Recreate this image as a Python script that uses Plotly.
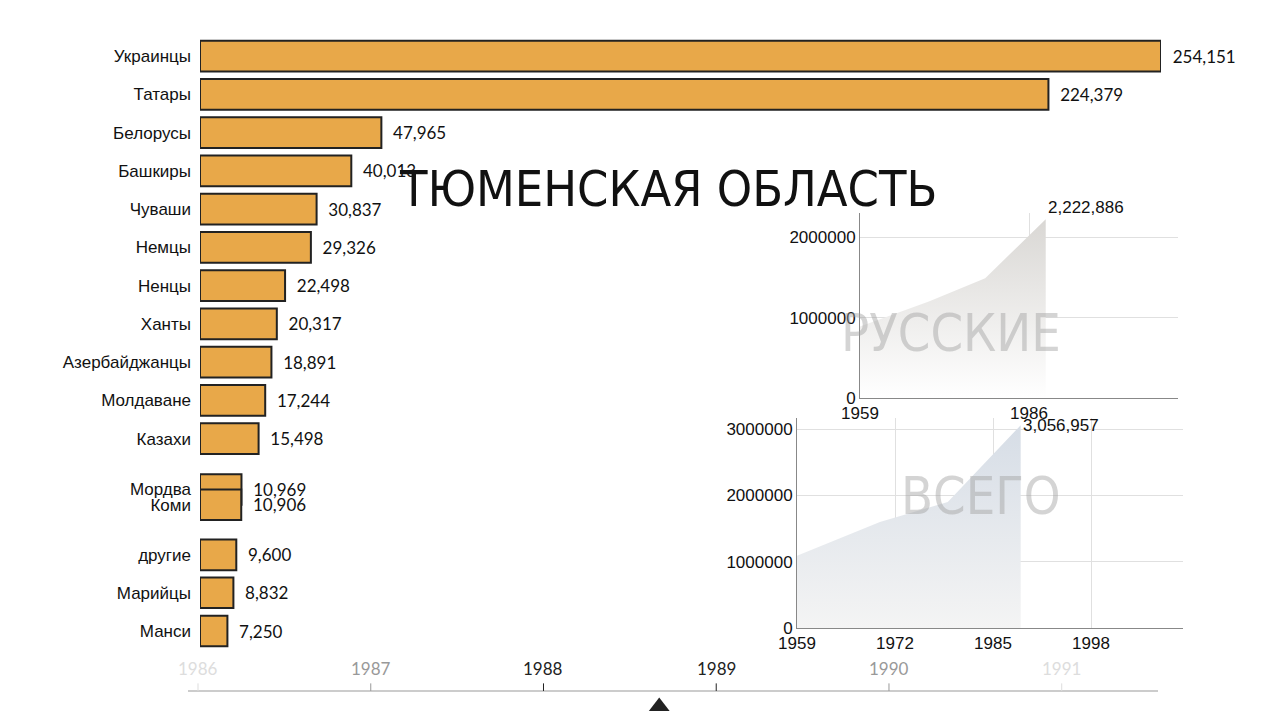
import plotly.graph_objects as go

categories = ["Украинцы","Татары","Белорусы","Башкиры","Чуваши","Немцы","Ненцы","Ханты",
              "Азербайджанцы","Молдаване","Казахи","Мордва","Коми","другие","Марийцы","Манси"]
values = [254151,224379,47965,40013,30837,29326,22498,20317,18891,17244,15498,10969,10906,9600,8832,7250]
ranks = [0,1,2,3,4,5,6,7,8,9,10,11.33,11.73,13.04,14.03,15.03]

rus_years = [1959,1970,1979,1988.67]
rus_vals = [890000,1200000,1490000,2222886]
tot_years = [1959,1970,1979,1988.67]
tot_vals = [1090000,1600000,1900000,3056957]

timeline_years = [1986,1987,1988,1989,1990,1991]
timeline_colors = ["#dddddd","#999999","#222222","#222222","#999999","#dddddd"]
current_year = 1988.67

fig = go.Figure()
fig.add_trace(go.Bar(x=values, y=ranks, orientation="h", width=0.8,
                     marker=dict(color="#E8A849", line=dict(color="#222", width=2)),
                     text=[f"  {v:,}" for v in values], textposition="outside",
                     textfont=dict(size=17, color="#111", family="Lato"), cliponaxis=False,
                     xaxis="x", yaxis="y", showlegend=False))

fig.add_trace(go.Scatter(x=rus_years, y=rus_vals, mode="lines", line=dict(width=0),
                         fill="tozeroy",
                         fillgradient=dict(type="vertical", colorscale=[[0,"#ffffff"],[1,"#d9d7d4"]]),
                         xaxis="x2", yaxis="y2", showlegend=False))
fig.add_trace(go.Scatter(x=tot_years, y=tot_vals, mode="lines", line=dict(width=0),
                         fill="tozeroy",
                         fillgradient=dict(type="vertical", colorscale=[[0,"#f4f4f4"],[1,"#d6dde6"]]),
                         xaxis="x3", yaxis="y3", showlegend=False))
fig.add_trace(go.Scatter(x=[current_year], y=[0.3], mode="markers",
                         marker=dict(symbol="triangle-up", size=18, color="#222"),
                         xaxis="x4", yaxis="y4", showlegend=False))

tickfont = dict(size=17, color="#111", family="Liberation Sans")
fig.update_layout(
    width=1280, height=720, margin=dict(l=0, r=0, t=0, b=0, autoexpand=False),
    paper_bgcolor="white", plot_bgcolor="rgba(0,0,0,0)",
    xaxis=dict(domain=[192/1280, 1153/1280], range=[0, 254151], visible=False, automargin=False),
    yaxis=dict(domain=[1-641/720, 1-29/720], range=[15.5, -0.5], tickvals=ranks, ticktext=categories,
               tickfont=tickfont, showgrid=False, zeroline=False, ticks="", ticklabelstandoff=8,
               automargin=False),
    xaxis2=dict(domain=[852/1280, 1170/1280], range=[1959, 2009.8], anchor="y2",
                tickvals=[1959,1986], tickfont=tickfont, showgrid=True, gridcolor="#e0e0e0",
                showline=True, linecolor="#888", ticks="", zeroline=False, automargin=False),
    yaxis2=dict(domain=[1-390/720, 1-205/720], range=[0, 2300000], anchor="x2",
                tickvals=[0,1000000,2000000], ticktext=["0","1000000","2000000"], tickfont=tickfont,
                gridcolor="#e0e0e0", showline=True, linecolor="#888", zeroline=False, automargin=False),
    xaxis3=dict(domain=[789/1280, 1175/1280], range=[1959, 2010.2], anchor="y3",
                tickvals=[1959,1972,1985,1998], tickfont=tickfont, gridcolor="#e0e0e0",
                showline=True, linecolor="#888", zeroline=False, automargin=False),
    yaxis3=dict(domain=[1-620/720, 1-410/720], range=[0, 3167000], anchor="x3",
                tickvals=[0,1000000,2000000,3000000], ticktext=["0","1000000","2000000","3000000"],
                tickfont=tickfont, gridcolor="#e0e0e0", showline=True, linecolor="#888",
                zeroline=False, automargin=False),
    xaxis4=dict(domain=[0,1], range=[1984.9, 1992.31], anchor="y4", visible=False),
    yaxis4=dict(domain=[0, 0.1], range=[0, 1], visible=False),
)

anns = [
    dict(text="ТЮМЕНСКАЯ ОБЛАСТЬ", x=931/1280, y=1-150/720, xref="paper", yref="paper",
         showarrow=False, font=dict(size=50, color="#111", family="DejaVu Sans Condensed")),
    dict(text="РУССКИЕ", x=1055/1280, y=1-325/720, xref="paper", yref="paper", showarrow=False,
         font=dict(size=52, color="rgba(160,160,160,0.45)", family="DejaVu Sans Condensed")),
    dict(text="ВСЕГО", x=1055/1280, y=1-520/720, xref="paper", yref="paper", showarrow=False,
         font=dict(size=52, color="rgba(160,160,160,0.45)", family="DejaVu Sans Condensed")),
    dict(text=f"{rus_vals[-1]:,}", x=rus_years[-1], y=rus_vals[-1], xref="x2", yref="y2",
         showarrow=False, xanchor="left", yanchor="bottom", font=tickfont),
    dict(text=f"{tot_vals[-1]:,}", x=tot_years[-1], y=tot_vals[-1], xref="x3", yref="y3",
         showarrow=False, xanchor="left", yanchor="middle", font=tickfont),
]
for yr, c in zip(timeline_years, timeline_colors):
    anns.append(dict(text=str(yr), x=yr, y=0.83, xref="x4", yref="y4", showarrow=False,
                     font=dict(size=17, color=c, family="Lato")))
fig.update_layout(annotations=anns)

shapes = [dict(type="line", xref="paper", yref="y4", x0=180/1280, x1=1150/1280, y0=0.514, y1=0.514,
               line=dict(color="#cccccc", width=2))]
for yr, c in zip(timeline_years, timeline_colors):
    shapes.append(dict(type="line", xref="x4", yref="y4", x0=yr, x1=yr, y0=0.514, y1=0.62,
                       line=dict(color=c, width=1)))
fig.update_layout(shapes=shapes)

fig.write_html("out.html")
